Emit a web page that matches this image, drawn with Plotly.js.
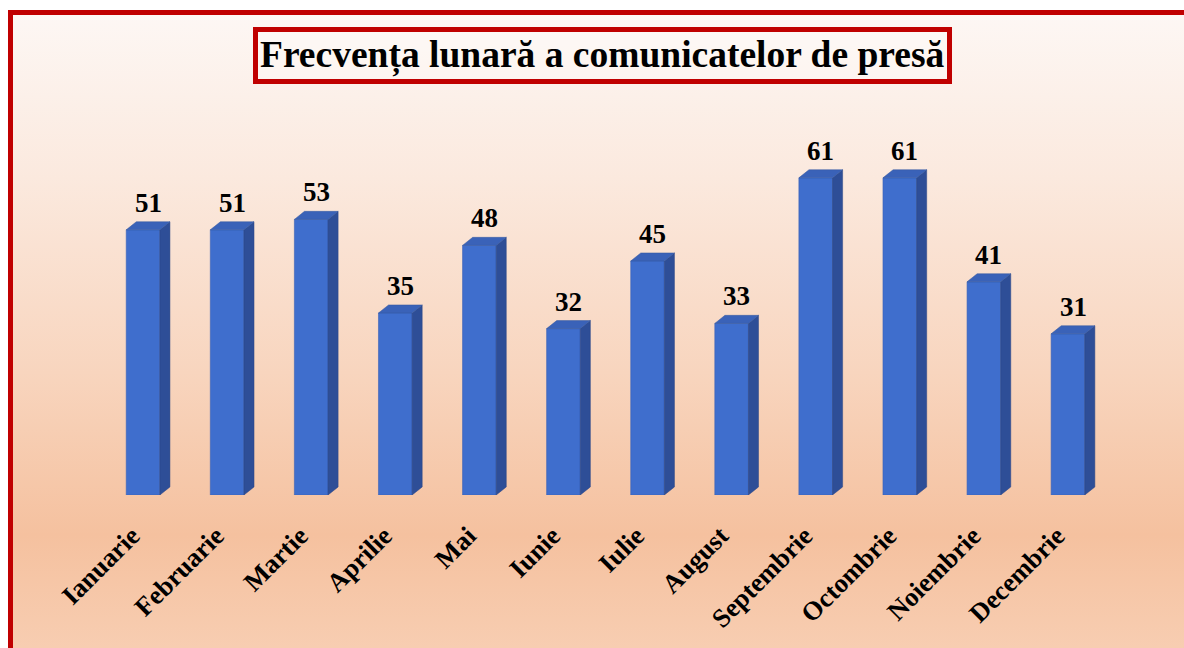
<!DOCTYPE html>
<html>
<head>
<meta charset="utf-8">
<script src="https://cdn.plot.ly/plotly-3.0.1.min.js"></script>
<style>
  html, body { margin:0; padding:0; background:#ffffff; }
  #wrap { position:relative; width:1184px; height:648px; overflow:hidden; background:#ffffff; }
  #frame { position:absolute; left:8px; top:10px; width:1190px; height:660px; box-sizing:border-box;
           border:5px solid #C00000;
           background: linear-gradient(to bottom, #FDF7F4 0%, #FBE9DE 25%, #F8D5BE 55%, #F5C19F 80%, #F8CFB4 100%); }
  #chart { position:absolute; left:0; top:0; width:1184px; height:648px; }
</style>
</head>
<body>
<div id="wrap"><div id="frame"></div><div id="chart"></div></div>
<script>
const months = ["Ianuarie","Februarie","Martie","Aprilie","Mai","Iunie","Iulie","August","Septembrie","Octombrie","Noiembrie","Decembrie"];
const counts = [51, 51, 53, 35, 48, 32, 45, 33, 61, 61, 41, 31];
const titleText = "Frecvența lunară a comunicatelor de presă";

const idx = months.map((m, i) => i);
const barW = 0.4;
const dx = 0.12;   // depth offset in x (category units)
const dy = 1.55;   // depth offset in y (value units)

const shapes = [];
idx.forEach(i => {
  const v = counts[i];
  const xr = i + barW / 2, xl = i - barW / 2;
  shapes.push({type:'path', xref:'x', yref:'y', layer:'above',
    path:`M ${xr} 0 L ${xr+dx} ${dy} L ${xr+dx} ${v+dy} L ${xr} ${v} Z`,
    fillcolor:'#2E4E97', line:{color:'#2A4687', width:0.5}});
  shapes.push({type:'path', xref:'x', yref:'y', layer:'above',
    path:`M ${xl} ${v} L ${xl+dx} ${v+dy} L ${xr+dx} ${v+dy} L ${xr} ${v} Z`,
    fillcolor:'#3A62B8', line:{color:'#34589F', width:0.5}});
});

const annotations = idx.map(i => ({
  x: i + dx / 2, y: counts[i] + dy, xref:'x', yref:'y',
  text: '<b>' + counts[i] + '</b>', showarrow:false, yanchor:'bottom', yshift:2,
  font:{family:'Liberation Serif, Times New Roman, serif', size:27, color:'#000000'}
}));
annotations.push({
  xref:'paper', yref:'paper', x:0.5, y:1, yshift:76, xshift:-3, xanchor:'center', yanchor:'middle',
  text:'<b>' + titleText + '</b>', showarrow:false,
  font:{family:'Liberation Serif, Times New Roman, serif', size:37.5, color:'#000000'},
  bordercolor:'#C00000', borderwidth:5, borderpad:2, bgcolor:'rgba(255,255,255,0.25)'
});

const trace = {
  type:'bar', x: idx, y: counts, width: barW,
  marker:{color:'#3F6ECD', line:{color:'#3A62B5', width:0.6}},
  hoverinfo:'x+y'
};

const layout = {
  width:1184, height:648,
  margin:{l:101, r:74, t:131, b:153},
  paper_bgcolor:'rgba(0,0,0,0)', plot_bgcolor:'rgba(0,0,0,0)',
  showlegend:false,
  xaxis:{type:'linear', range:[-0.5, 11.5], tickvals: idx, ticktext: months.map(m => '<b>' + m + '</b>'),
    tickangle:-45, showgrid:false, zeroline:false, showline:false, ticks:'',
    ticklabelstandoff: 19, ticklabelshift: -11,
    tickfont:{family:'Liberation Serif, Times New Roman, serif', size:26.5, color:'#000000'}},
  yaxis:{range:[0, 70], visible:false, showgrid:false, zeroline:false},
  shapes: shapes,
  annotations: annotations
};

Plotly.newPlot('chart', [trace], layout, {displayModeBar:false, staticPlot:true});
</script>
</body>
</html>
